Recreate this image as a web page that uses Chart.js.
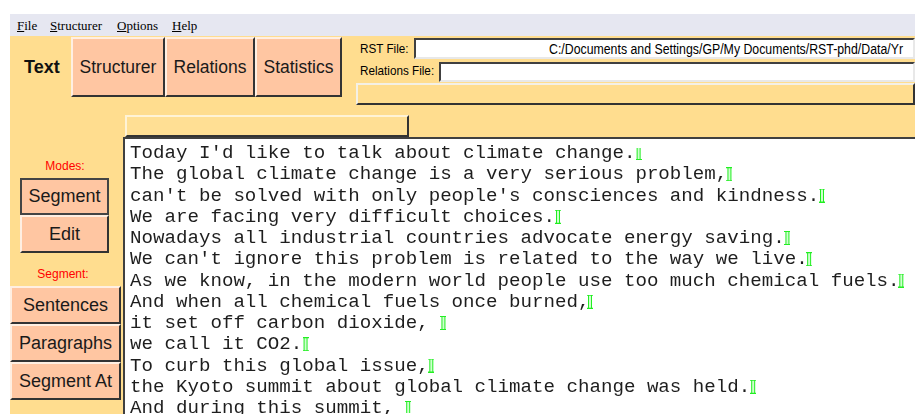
<!DOCTYPE html>
<html>
<head>
<meta charset="utf-8">
<title>RST Tool - Text</title>
<script src="https://cdn.jsdelivr.net/npm/chart.js@4.4.1/dist/chart.umd.min.js"></script>
<style>
  body { margin: 0; width: 915px; height: 414px; overflow: hidden; background: #fff; position: relative;
         font-family: Arial, "Liberation Sans", sans-serif; }
  .abs { position: absolute; }
  #menu { left: 10px; top: 14px; width: 905px; height: 22px; background: #E6E7F1;
          font: 13px "Liberation Serif", "Times New Roman", serif; color: #000; }
  #menu span { position: absolute; top: 4px; }
  #panel { left: 10px; top: 36px; width: 905px; height: 378px; background: #FFDD8F; }
  .btn { position: absolute; box-sizing: border-box; background: #FFC6A2; color: #1a1a1a;
         border: 2px solid; border-color: #FFEFE2 #333 #333 #FFEFE2;
         display: flex; align-items: center; justify-content: center; font-size: 18px; }
  .tab { font-size: 17.5px; }
  .red { position: absolute; color: #f00; font-size: 12px; text-align: center; width: 110px; }
  .lbl { position: absolute; font-size: 13px; color: #000; transform: scaleX(0.9); transform-origin: 0 0; white-space: nowrap; }
  .field { position: absolute; box-sizing: border-box; background: #fff; border: 2px solid;
           border-color: #404040 #e8e8e8 #e8e8e8 #404040; overflow: hidden; white-space: nowrap; }
  .field span { position: absolute; top: 1px; font-size: 14px; transform: scaleX(0.88); transform-origin: 0 0; }
  #textbox { left: 123px; top: 137px; width: 792px; height: 277px; box-sizing: border-box; background: #fff;
             border-left: 2px solid #404040; border-top: 2px solid #404040; }
</style>
</head>
<body>
<div id="menu" class="abs">
  <span style="left:7px"><u>F</u>ile</span>
  <span style="left:40px"><u>S</u>tructurer</span>
  <span style="left:107px"><u>O</u>ptions</span>
  <span style="left:162px"><u>H</u>elp</span>
</div>
<div id="panel" class="abs"></div>

<!-- tabs -->
<div class="abs" style="left:24px;top:57px;font-weight:bold;font-size:18px;color:#111">Text</div>
<div class="btn tab" style="left:71px;top:37px;width:94px;height:60px">Structurer</div>
<div class="btn tab" style="left:165px;top:37px;width:90px;height:60px">Relations</div>
<div class="btn tab" style="left:255px;top:37px;width:87px;height:60px">Statistics</div>

<!-- file fields -->
<div class="lbl" style="left:360px;top:41px">RST File:</div>
<div class="field" style="left:414px;top:38px;width:501px;height:21px"><span style="left:133px">C:/Documents and Settings/GP/My Documents/RST-phd/Data/Yr</span></div>
<div class="lbl" style="left:360px;top:63px">Relations File:</div>
<div class="field" style="left:439px;top:62px;width:476px;height:20px"></div>
<div class="abs" style="left:356px;top:83px;width:559px;height:22px;box-sizing:border-box;background:#FFDD8F;border:2px solid;border-color:#f4f0e6 #333 #333 #f4f0e6"></div>

<!-- small bar above the text -->
<div class="abs" style="left:125px;top:115px;width:284px;height:22px;box-sizing:border-box;background:#FFDF94;border:2px solid;border-color:#FFF3D6 #333 #333 #FFF3D6"></div>

<!-- left controls -->
<div class="red" style="left:10px;top:159px">Modes:</div>
<div class="btn" style="left:20px;top:178px;width:89px;height:37px;border-color:#444">Segment</div>
<div class="btn" style="left:20px;top:215px;width:89px;height:38px">Edit</div>
<div class="red" style="left:8px;top:267px">Segment:</div>
<div class="btn" style="left:10px;top:286px;width:111px;height:38px">Sentences</div>
<div class="btn" style="left:10px;top:324px;width:111px;height:38px">Paragraphs</div>
<div class="btn" style="left:10px;top:362px;width:111px;height:38px">Segment At</div>

<!-- text area: lines drawn as category ticks, segment markers as points -->
<div id="textbox" class="abs"></div>
<canvas id="txt" class="abs" width="790" height="290" style="left:125px;top:139px"></canvas>

<script>
// one category per text line
const lines = [
  "Today I'd like to talk about climate change.",
  "The global climate change is a very serious problem,",
  "can't be solved with only people's consciences and kindness.",
  "We are facing very difficult choices.",
  "Nowadays all industrial countries advocate energy saving.",
  "We can't ignore this problem is related to the way we live.",
  "As we know, in the modern world people use too much chemical fuels.",
  "And when all chemical fuels once burned,",
  "it set off carbon dioxide, ",
  "we call it CO2.",
  "To curb this global issue,",
  "the Kyoto summit about global climate change was held.",
  "And during this summit, "
];
// column (in characters) of the green segment marker on each line
const markerCols = [44.56, 52.52, 60.63, 37.5, 57.6, 59.5, 67.58, 40.3, 27.46, 15.38, 26.4, 54.6, 24.37];

const monoFont = { family: "'Liberation Mono', 'Courier New', monospace", size: 19.15 };

// character width of the mono font, used to size the x scale in columns
const mctx = document.createElement('canvas').getContext('2d');
mctx.font = monoFont.size + "px " + monoFont.family;
const charW = mctx.measureText('MMMMMMMMMM').width / 10;

// segment marker glyph
const mark = document.createElement('canvas');
mark.width = 6; mark.height = 14;
(function () {
  const g = mark.getContext('2d');
  g.fillStyle = '#CFFFCF';
  g.fillRect(2, 1, 2, 12);
  g.fillStyle = '#22EE22';
  g.fillRect(0, 0, 6, 1);
  g.fillRect(0, 13, 6, 1);
  g.fillRect(1, 0, 1, 14);
  g.fillRect(4, 0, 1, 14);
})();

const padL = 5, padR = 0;
const areaW = 790 - padL - padR;

new Chart(document.getElementById('txt'), {
  type: 'scatter',
  data: {
    labels: lines,
    datasets: [{
      data: markerCols.map((c, i) => ({ x: c, y: lines[i] })),
      pointStyle: mark,
      pointRadius: 4,
      pointHoverRadius: 4
    }]
  },
  options: {
    responsive: false,
    animation: false,
    events: [],
    layout: { padding: { left: padL, right: padR, top: 14, bottom: 21 } },
    plugins: { legend: { display: false }, tooltip: { enabled: false } },
    scales: {
      x: { type: 'linear', min: 0, max: areaW / charW, display: false },
      y: {
        type: 'category',
        labels: lines,
        offset: false,
        position: 'left',
        grid: { display: false, drawTicks: false },
        border: { display: false },
        ticks: { mirror: true, padding: 0, autoSkip: false, color: '#1e1e1e', font: monoFont }
      }
    }
  }
});
</script>
</body>
</html>
